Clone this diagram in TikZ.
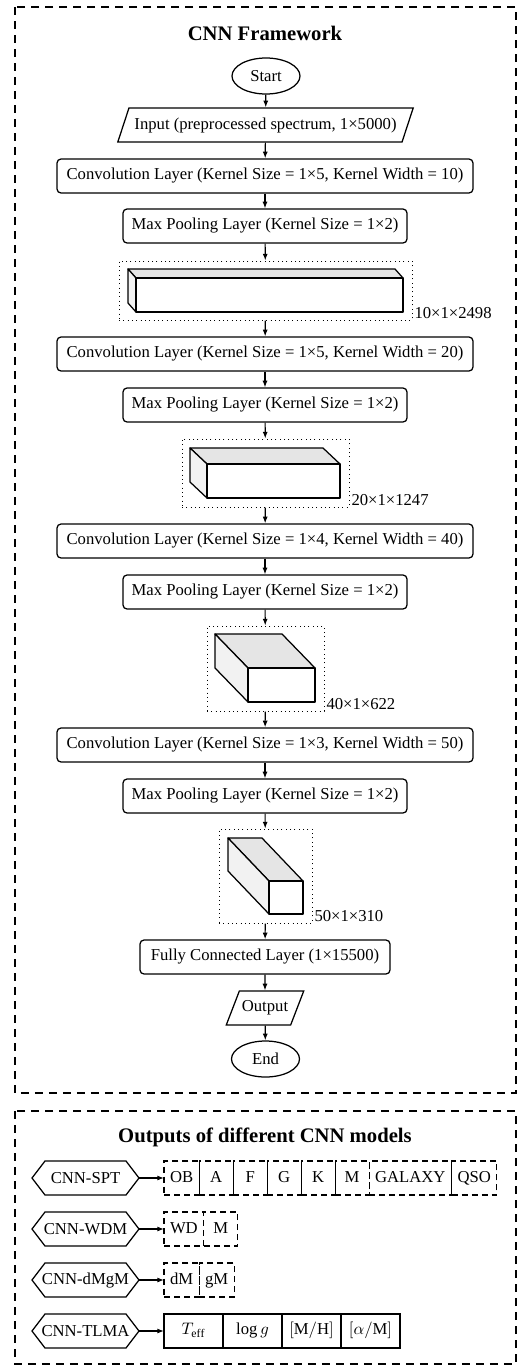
\documentclass[tikz,border=0pt]{standalone}
\usepackage{fontspec}
\setmainfont{Liberation Serif}
\usetikzlibrary{arrows.meta,positioning,shapes.geometric}
\definecolor{CnnTop}{RGB}{229,229,229}
\definecolor{CnnSide}{RGB}{242,242,242}
\tikzset{
  cnn/frame/.style={
    draw=black,
    line width=1pt,
    dash pattern=on 4.8pt off 3.6pt
  },
  cnn/title/.style={font=\bfseries\fontsize{12.4}{15}\selectfont, align=center},
  cnn/box/.style={
    draw,
    line width=0.75pt,
    rounded corners=2.4pt,
    fill=white,
    align=center,
    minimum height=20.4pt,
    inner xsep=5pt,
    font=\normalsize
  },
  cnn/term/.style={
    ellipse,
    draw,
    line width=0.75pt,
    minimum width=40.8pt,
    minimum height=21.6pt,
    inner sep=1pt
  },
  cnn/io/.style={
    trapezium,
    trapezium stretches=true,
    trapezium left angle=67,
    trapezium right angle=113,
    draw,
    line width=0.75pt,
    minimum height=20.4pt,
    inner xsep=3.3pt
  },
  cnn/volume/.style={draw, dotted, line width=0.6pt, inner sep=0pt},
  cnn/dims/.style={anchor=south west, inner sep=1pt},
  cnn/face/.style={draw, line width=0.75pt, line join=round},
  cnn/arrow/.style={-{Latex[length=4pt,width=3pt]}, line width=0.7pt},
  cnn/model/.style={
    minimum width=64.2pt,
    minimum height=20.4pt,
    inner sep=0pt,
    outer sep=0pt,
    append after command={\pgfextra{
      \draw[line width=0.75pt, line join=miter]
        (\tikzlastnode.west) -- ([xshift=7.8pt]\tikzlastnode.north west)
        -- ([xshift=-7.8pt]\tikzlastnode.north east) -- (\tikzlastnode.east)
        -- ([xshift=-7.8pt]\tikzlastnode.south east)
        -- ([xshift=7.8pt]\tikzlastnode.south west) -- cycle;
    }}
  },
  cnn/class/.style={
    draw,
    dash pattern=on 3.6pt off 2.4pt,
    line width=0.75pt,
    minimum width=20.4pt,
    minimum height=20.4pt,
    text height=1.6ex,
    text depth=0.4ex,
    inner xsep=3.6pt,
    outer sep=0pt
  },
  cnn/param/.style={
    draw,
    line width=0.75pt,
    minimum width=35.4pt,
    minimum height=20.4pt,
    text height=1.6ex,
    text depth=0.6ex,
    inner xsep=2pt,
    outer sep=0pt
  }
}

\begin{document}
\begin{tikzpicture}[x=0.6pt,y=-0.6pt]
  \useasboundingbox (0,0) rectangle (532,1366);

  % framework
  \draw[cnn/frame] (15,7) rectangle (516,1093);
  \node[cnn/title] (fwtitle) at (265,33) {CNN Framework};
  \node[cnn/term] (start) at (266,76) {Start};
  \node[cnn/io] (input) at (265.5,125) {Input (preprocessed spectrum, 1×5000)};
  \node[cnn/box,minimum width=249.6pt] (conv1) at (265,176) {Convolution Layer (Kernel Size = 1×5, Kernel Width = 10)};
  \node[cnn/box,minimum width=170.4pt] (pool1) at (265,226) {Max Pooling Layer (Kernel Size = 1×2)};

  \node[cnn/volume,minimum width=175.8pt,minimum height=35.4pt] (vol1) at (265.5,290.5) {};
  \filldraw[cnn/face,fill=CnnTop] (136,278) -- ++(-8,-9) -- ++(267,0) -- (403,278) -- cycle;
  \filldraw[cnn/face,fill=CnnSide] (136,278) -- ++(-8,-9) -- ++(0,34) -- (136,312) -- cycle;
  \filldraw[cnn/face,fill=white] (136,278) rectangle (403,312);
  \node[cnn/dims] (dims1) at (vol1.south east) {10×1×2498};

  \node[cnn/box,minimum width=249.6pt] (conv2) at (265,354) {Convolution Layer (Kernel Size = 1×5, Kernel Width = 20)};
  \node[cnn/box,minimum width=170.4pt] (pool2) at (265,405) {Max Pooling Layer (Kernel Size = 1×2)};

  \node[cnn/volume,minimum width=100.2pt,minimum height=40.8pt] (vol2) at (265.5,473) {};
  \filldraw[cnn/face,fill=CnnTop] (207,464) -- ++(-17,-16) -- ++(133,0) -- (340,464) -- cycle;
  \filldraw[cnn/face,fill=CnnSide] (207,464) -- ++(-17,-16) -- ++(0,34) -- (207,498) -- cycle;
  \filldraw[cnn/face,fill=white] (207,464) rectangle (340,498);
  \node[cnn/dims] (dims2) at (vol2.south east) {20×1×1247};

  \node[cnn/box,minimum width=249.6pt] (conv3) at (265,541) {Convolution Layer (Kernel Size = 1×4, Kernel Width = 40)};
  \node[cnn/box,minimum width=170.4pt] (pool3) at (265,592) {Max Pooling Layer (Kernel Size = 1×2)};

  \node[cnn/volume,minimum width=70.2pt,minimum height=51pt] (vol3) at (265.5,668.5) {};
  \filldraw[cnn/face,fill=CnnTop] (248,668) -- ++(-33,-34) -- ++(67,0) -- (315,668) -- cycle;
  \filldraw[cnn/face,fill=CnnSide] (248,668) -- ++(-33,-34) -- ++(0,34) -- (248,702) -- cycle;
  \filldraw[cnn/face,fill=white] (248,668) rectangle (315,702);
  \node[cnn/dims] (dims3) at (vol3.south east) {40×1×622};

  \node[cnn/box,minimum width=249.6pt] (conv4) at (265,745) {Convolution Layer (Kernel Size = 1×3, Kernel Width = 50)};
  \node[cnn/box,minimum width=170.4pt] (pool4) at (265,796) {Max Pooling Layer (Kernel Size = 1×2)};

  \node[cnn/volume,minimum width=55.8pt,minimum height=56.4pt] (vol4) at (265.5,876) {};
  \filldraw[cnn/face,fill=CnnTop] (269,881) -- ++(-41,-43) -- ++(34,0) -- (303,881) -- cycle;
  \filldraw[cnn/face,fill=CnnSide] (269,881) -- ++(-41,-43) -- ++(0,33) -- (269,914) -- cycle;
  \filldraw[cnn/face,fill=white] (269,881) rectangle (303,914);
  \node[cnn/dims] (dims4) at (vol4.south east) {50×1×310};

  \node[cnn/box,minimum width=150pt] (fc) at (265,957) {Fully Connected Layer (1×15500)};
  \node[cnn/io,trapezium left angle=63,trapezium right angle=117,inner xsep=1.5pt] (output) at (265,1008) {Output};
  \node[cnn/term] (stop) at (265.5,1059) {End};

  \draw[cnn/arrow] (start) -- (input);
  \draw[cnn/arrow] (input) -- (conv1);
  \draw[cnn/arrow] (conv1) -- (pool1);
  \draw[cnn/arrow] (pool1) -- (vol1);
  \draw[cnn/arrow] (vol1) -- (conv2);
  \draw[cnn/arrow] (conv2) -- (pool2);
  \draw[cnn/arrow] (pool2) -- (vol2);
  \draw[cnn/arrow] (vol2) -- (conv3);
  \draw[cnn/arrow] (conv3) -- (pool3);
  \draw[cnn/arrow] (pool3) -- (vol3);
  \draw[cnn/arrow] (vol3) -- (conv4);
  \draw[cnn/arrow] (conv4) -- (pool4);
  \draw[cnn/arrow] (pool4) -- (vol4);
  \draw[cnn/arrow] (vol4) -- (fc);
  \draw[cnn/arrow] (fc) -- (output);
  \draw[cnn/arrow] (output) -- (stop);

  % model outputs
  \draw[cnn/frame] (15,1111) rectangle (516,1364);
  \node[cnn/title] (outtitle) at (265,1137) {Outputs of different CNN models};

  \node[cnn/model] (spt) at (85.5,1178) {CNN-SPT};
  \node[cnn/class,anchor=west] (ob) at (164,1178) {OB};
  \node[cnn/class,right=0pt of ob] (clsA) {A};
  \node[cnn/class,right=0pt of clsA] (clsF) {F};
  \node[cnn/class,right=0pt of clsF] (clsG) {G};
  \node[cnn/class,right=0pt of clsG] (clsK) {K};
  \node[cnn/class,right=0pt of clsK] (clsM) {M};
  \node[cnn/class,right=0pt of clsM] (galaxy) {GALAXY};
  \node[cnn/class,right=0pt of galaxy] (qso) {QSO};
  \draw[cnn/arrow] (spt) -- (ob);

  \node[cnn/model] (wdm) at (85.5,1229) {CNN-WDM};
  \node[cnn/class,anchor=west] (wd) at (164,1229) {WD};
  \node[cnn/class,right=0pt of wd] (wdM) {M};
  \draw[cnn/arrow] (wdm) -- (wd);

  \node[cnn/model] (dmgm) at (85.5,1280) {CNN-dMgM};
  \node[cnn/class,anchor=west] (dM) at (164,1280) {dM};
  \node[cnn/class,right=0pt of dM] (gM) {gM};
  \draw[cnn/arrow] (dmgm) -- (dM);

  \node[cnn/model] (tlma) at (85.5,1331) {CNN-TLMA};
  \node[cnn/param,anchor=west] (teff) at (164,1331) {$T_{\mathrm{eff}}$};
  \node[cnn/param,right=0pt of teff] (logg) {$\log g$};
  \node[cnn/param,right=0pt of logg] (mh) {$[\mathrm{M/H}]$};
  \node[cnn/param,right=0pt of mh] (am) {$[\alpha/\mathrm{M}]$};
  \draw[cnn/arrow] (tlma) -- (teff);
\end{tikzpicture}
\end{document}
